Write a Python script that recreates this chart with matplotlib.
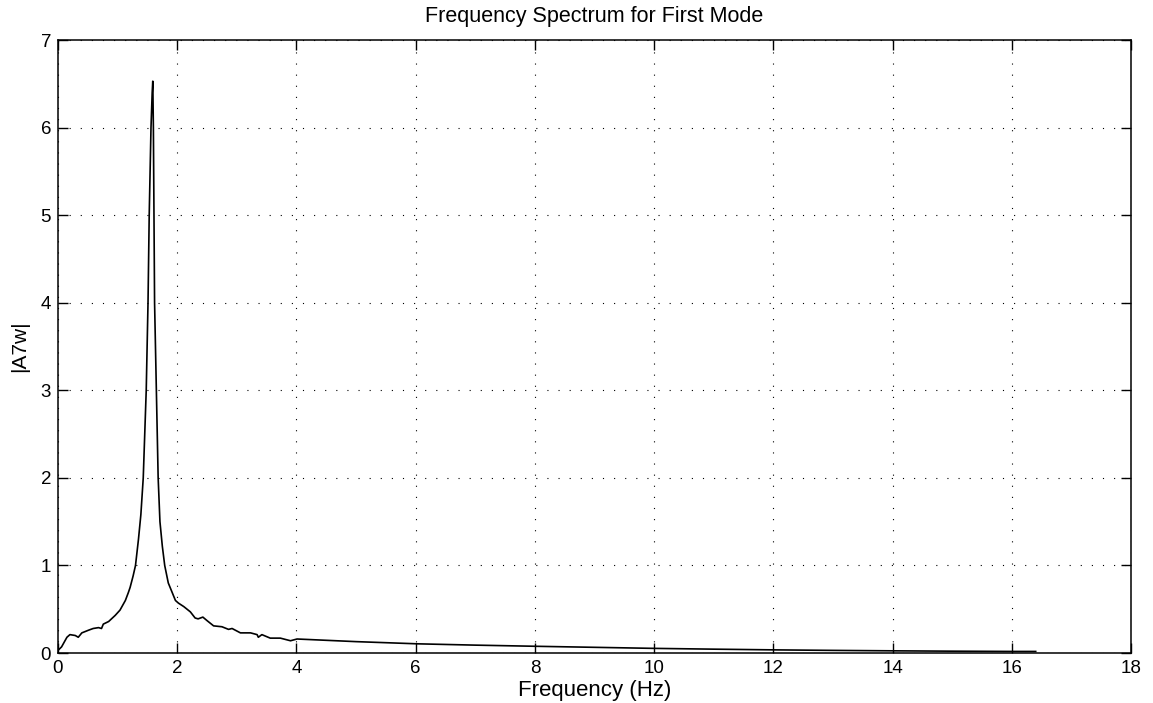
import numpy as np
import matplotlib
matplotlib.use("Agg")
import matplotlib.pyplot as plt

# spectrum (frequency in Hz, |A/w|)
freq = [0.0, 0.06, 0.15, 0.20, 0.29, 0.34, 0.40, 0.51, 0.59, 0.68, 0.73, 0.76,
        0.85, 0.96, 1.04, 1.13, 1.18, 1.21, 1.26, 1.30, 1.35, 1.39, 1.43, 1.48,
        1.51, 1.53, 1.56, 1.58, 1.59, 1.60, 1.61, 1.62, 1.65, 1.68, 1.71, 1.75,
        1.79, 1.85, 1.91, 1.97, 2.02, 2.11, 2.22, 2.30, 2.35, 2.43, 2.50, 2.61,
        2.75, 2.86, 2.92, 3.06, 3.23, 3.34, 3.36, 3.42, 3.56, 3.73, 3.90, 4.01,
        5.0, 6.03, 7.0, 8.0, 9.0, 10.0, 11.0, 12.0, 13.0, 14.0, 15.0, 16.0, 16.4]
amp = [0.03, 0.07, 0.18, 0.21, 0.20, 0.18, 0.23, 0.26, 0.28, 0.29, 0.28, 0.33,
       0.36, 0.43, 0.49, 0.60, 0.69, 0.75, 0.88, 1.00, 1.30, 1.58, 2.00, 3.00,
       4.00, 5.00, 6.00, 6.40, 6.53, 6.00, 5.00, 4.00, 3.00, 2.00, 1.50, 1.22,
       1.00, 0.80, 0.70, 0.60, 0.57, 0.53, 0.47, 0.40, 0.39, 0.41, 0.37, 0.31,
       0.30, 0.27, 0.28, 0.23, 0.23, 0.21, 0.18, 0.21, 0.17, 0.17, 0.14, 0.16,
       0.13, 0.105, 0.09, 0.077, 0.065, 0.053, 0.044, 0.036, 0.030, 0.025, 0.021, 0.018, 0.018]

plt.rcParams["font.family"] = ["Liberation Sans", "DejaVu Sans"]

fig = plt.figure(figsize=(11.53, 7.03), dpi=100)
ax = fig.add_axes([0.0503, 0.0711, 0.9307, 0.872])

ax.plot(freq, amp, "-", color="black", linewidth=1.2)

ax.set_xlim(0, 18)
ax.set_ylim(0, 7)
ax.set_xticks(np.arange(0, 19, 2))
ax.set_yticks(np.arange(0, 8, 1))

# matlab-ish look: dotted grid, inward ticks on all four sides
ax.grid(True, color="black", linestyle=(0, (1, 9)), linewidth=0.8)
ax.tick_params(direction="in", length=7, width=1, top=True, right=True,
               labelsize=13.5, pad=5)
for spine in ax.spines.values():
    spine.set_linewidth(1.1)

ax.set_title("Frequency Spectrum for First Mode", fontsize=15.5, pad=13)
ax.set_xlabel("Frequency (Hz)", fontsize=16, labelpad=2)
ax.set_ylabel("|A7w|", fontsize=15, labelpad=8)

fig.savefig("out.png", dpi=100)
